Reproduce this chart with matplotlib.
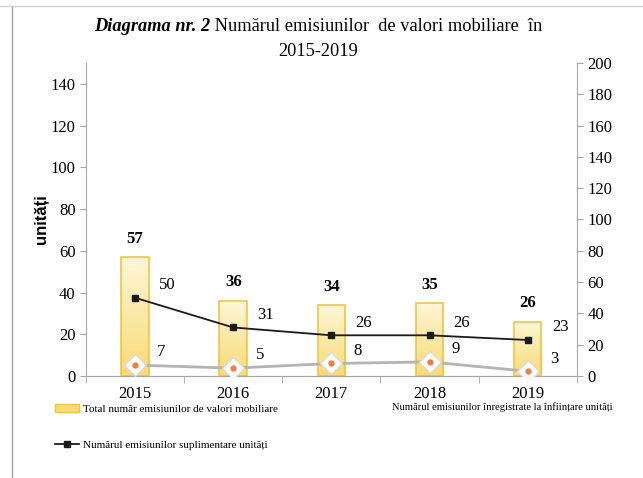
import numpy as np
import matplotlib
matplotlib.use("Agg")
import matplotlib.pyplot as plt
from matplotlib.lines import Line2D
from matplotlib.patches import Patch
from matplotlib.colors import LinearSegmentedColormap

# -----------------------------
# Data
# -----------------------------
years = ["2015", "2016", "2017", "2018", "2019"]
total_emisiuni = [57, 36, 34, 35, 26]
suplimentare = [50, 31, 26, 26, 23]
infiintare = [7, 5, 8, 9, 3]

plt.rcParams["font.family"] = ["Liberation Serif", "DejaVu Serif"]

fig = plt.figure(figsize=(6.43, 4.78), dpi=100)
ax = fig.add_axes([0.1337, 0.2134, 0.7633, 0.6548])
ax2 = ax.twinx()

x = np.arange(len(years))
bar_w = 0.28

# bars with a soft yellow gradient
cmap = LinearSegmentedColormap.from_list("yel", ["#F8DB74", "#FEF6D8"])
grad = np.linspace(0, 1, 100).reshape(-1, 1)
bars = ax.bar(x, total_emisiuni, width=bar_w, color="none",
              edgecolor="#F3C443", linewidth=1.2, zorder=3)
for b in bars:
    x0, y0 = b.get_x(), b.get_y()
    im = ax.imshow(grad, cmap=cmap, aspect="auto", zorder=2,
                   extent=[x0, x0 + b.get_width(), y0 + b.get_height(), y0])
    im.set_clip_path(b)
for xi, v in zip(x, total_emisiuni):
    ax.text(xi, v + 5, str(v), ha="center", va="bottom",
            fontsize=12, fontweight="bold")

ax.set_xlim(-0.5, 4.5)
ax.set_ylim(0, 150)
ax.set_yticks(range(0, 141, 20))
ax2.set_ylim(0, 200)
ax2.set_yticks(range(0, 201, 20))

# lines on secondary axis
ax2.plot(x, suplimentare, color="#1a1a1a", lw=1.3, marker="s",
         markersize=4.5, zorder=5)
ax2.plot(x, infiintare, color="#B4B4B4", lw=2, zorder=4)
ax2.plot(x, infiintare, ls="none", marker="D", markersize=11,
         markerfacecolor="white", markeredgecolor="#DADADA",
         markeredgewidth=1, zorder=5)
ax2.plot(x, infiintare, ls="none", marker="o", markersize=3.5,
         color="#F07F3C", zorder=6)

for xi, v in zip(x, suplimentare):
    ax2.text(xi + 0.33, v + 3, str(v), ha="center", va="bottom", fontsize=12)
for xi, v in zip(x, infiintare):
    ax2.text(xi + 0.27, v + 3, str(v), ha="center", va="bottom", fontsize=12)

# axes styling
for a in (ax, ax2):
    a.spines["top"].set_visible(False)
    for s in ("left", "right", "bottom"):
        a.spines[s].set_color("#A6A6A6")
    a.tick_params(axis="y", colors="#A6A6A6", labelcolor="black",
                  labelsize=12, length=4)
ax.spines["right"].set_visible(False)
ax2.spines["left"].set_visible(False)

ax.set_xticks(x)
ax.set_xticklabels(years, fontsize=12)
ax.set_xticks(np.arange(-0.5, 5, 1), minor=True)
ax.tick_params(axis="x", which="major", length=0, pad=7)
ax.tick_params(axis="x", which="minor", length=5, colors="#A6A6A6")

ax.set_ylabel("unități", fontsize=12, fontweight="bold",
              family=["Liberation Sans", "DejaVu Sans"], labelpad=1)

# title: bold italic part + regular part, centred together
t1 = fig.text(0, 0.945, "Diagrama nr. 2", fontsize=13.2, fontweight="bold",
              style="italic", ha="left", va="center")
t2 = fig.text(0, 0.945, " Numărul emisiunilor  de valori mobiliare  în",
              fontsize=13.2, ha="left", va="center")
fig.text(0.495, 0.893, "2015-2019", fontsize=13.2, ha="center", va="center")
r = fig.canvas.get_renderer()
w1 = t1.get_window_extent(r).width / fig.bbox.width
w2 = t2.get_window_extent(r).width / fig.bbox.width
start = 0.495 - (w1 + w2) / 2
t1.set_x(start)
t2.set_x(start + w1)

# legend
h1 = Patch(facecolor="#F8DB74", edgecolor="#F3C443")
h2 = Line2D([], [], color="#1a1a1a", lw=1.3, marker="s", markersize=4.5)
fig.legend([h1, h2],
           ["Total număr emisiunilor de valori mobiliare",
            "Numărul emisiunilor suplimentare unități"],
           loc="upper left", bbox_to_anchor=(0.07, 0.176), frameon=False,
           fontsize=8, handlelength=2.2, handletextpad=0.3, labelspacing=2.4)
fig.text(0.61, 0.148, "Numărul emisiunilor înregistrate la înființare unități",
         fontsize=7.6, ha="left", va="center")

# outer frame
fig.add_artist(Line2D([0.019, 0.019], [0.0, 0.987], color="#A6A6A6", lw=1,
                      transform=fig.transFigure))
fig.add_artist(Line2D([0.0, 1.0], [0.987, 0.987], color="#D0D0D0", lw=1,
                      transform=fig.transFigure))

fig.savefig("out.png", dpi=100)
